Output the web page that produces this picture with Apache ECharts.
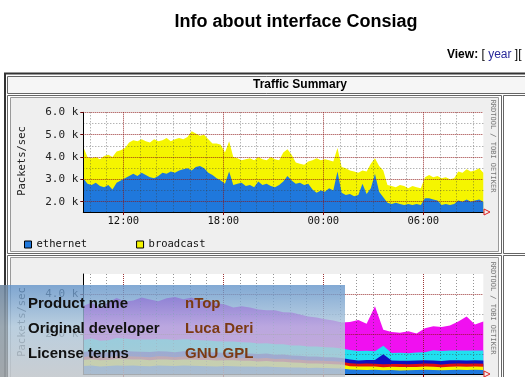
<!DOCTYPE html>
<html>
<head>
<meta charset="utf-8">
<script src="https://cdn.jsdelivr.net/npm/echarts@6/dist/echarts.min.js"></script>
<style>
  html, body { margin: 0; padding: 0; background: #fff; }
  #chart { width: 525px; height: 377px; }
</style>
</head>
<body>
<div id="chart"></div>
<script>
// top graph: packets/sec, one sample every 15 min starting 09:36
const startHour = 9.6;
const stepHour = 0.25;
const ethernet = [
  3050, 2800, 2750, 2850, 2700, 2650, 2750, 2550, 2850, 2950,
  3050, 3150, 3250, 3150, 3300, 3200, 3100, 3050, 3150, 3300,
  3250, 3350, 3300, 3400, 3450, 3500, 3400, 3550, 3600, 3500,
  3300, 3200, 3050, 2950, 2800, 3350, 2750, 2800, 2850, 2700,
  2750, 2650, 2900, 2750, 2800, 2700, 2650, 2750, 2900, 3150,
  2950, 2800, 2850, 2750, 2800, 2550, 2400, 2500, 2450, 2600,
  2500, 3350, 2400, 2300, 2350, 2250, 2300, 2800, 2350, 2600,
  3250, 2450, 2200, 1950, 1900, 1950, 1900, 1850, 1900, 1850,
  1900, 1850, 2150, 2150, 2100, 2050, 1850, 1900, 1850, 1900,
  2050, 2000, 2100, 2000, 2050, 2100, 2000
];
const broadcast = [
  1400, 1200, 1200, 1150, 1200, 1400, 1350, 1450, 1400, 1350,
  1350, 1500, 1500, 1550, 1500, 1500, 1550, 1750, 1550, 1450,
  1600, 1350, 1500, 1450, 1350, 1400, 1750, 1500, 1350, 1500,
  1500, 1400, 1550, 1600, 1400, 1350, 1250, 1150, 1000, 1200,
  1200, 1200, 1100, 1150, 1050, 1300, 1250, 1100, 1300, 1200,
  1150, 950, 850, 900, 1000, 1300, 1550, 1350, 1450, 1250,
  1300, 1050, 1150, 1200, 1050, 1100, 1000, 600, 1000, 1100,
  700, 1150, 1200, 800, 800, 700, 850, 850, 700, 850,
  750, 750, 950, 1050, 1000, 1100, 1200, 1200, 1150, 1150,
  1300, 1300, 1350, 1350, 1350, 1400, 1300
];

// second graph: stacked protocols, one sample every 30 min starting 09:36
const startHour2 = 9.6;
const stepHour2 = 0.5;
const layerBlue = [
  400, 420, 380, 400, 430, 410, 420, 400, 390, 420, 410, 400, 420, 410, 400, 390, 380,
  400, 390, 380, 370, 360, 370, 350, 340, 330, 320, 300, 310, 300, 290, 280,
  220, 210, 200, 210, 190, 200, 180, 190, 200, 210, 200, 190, 200, 210, 200, 210, 200
];
const layerYellow = [
  300, 320, 310, 300, 320, 330, 310, 320, 300, 310, 320, 300, 310, 320, 300, 310, 300,
  290, 300, 280, 290, 270, 280, 260, 270, 250, 240, 230, 220, 210, 200, 190,
  170, 160, 170, 160, 150, 160, 170, 160, 150, 170, 160, 150, 160, 170, 160, 170, 160
];
const layerRed = [
  150, 160, 150, 140, 150, 160, 150, 140, 150, 160, 150, 140, 150, 160, 150, 140, 150,
  140, 150, 140, 150, 140, 150, 140, 150, 140, 150, 140, 150, 140, 150, 140,
  150, 140, 150, 140, 150, 140, 150, 140, 150, 140, 150, 140, 150, 140, 150, 140, 150
];
const layerNavy = [
  250, 260, 240, 250, 260, 250, 240, 250, 260, 250, 240, 250, 260, 250, 240, 250, 240,
  230, 240, 230, 220, 230, 220, 210, 220, 210, 200, 210, 200, 190, 200, 190,
  180, 170, 180, 190, 500, 170, 160, 170, 180, 170, 160, 170, 180, 170, 160, 170, 170
];
const layerCyan = [
  600, 620, 580, 600, 640, 620, 600, 610, 630, 600, 620, 610, 600, 590, 600, 580, 570,
  560, 550, 560, 540, 530, 520, 530, 510, 500, 520, 500, 490, 500, 480, 470,
  480, 470, 460, 440, 420, 380, 400, 380, 390, 400, 520, 500, 490, 480, 500, 490, 500
];
const layerMagenta = [
  1700, 1800, 1650, 1900, 2000, 1850, 1950, 2100, 2000, 1900, 2050, 2150, 2000, 2100, 1950, 2000, 1900,
  1850, 1700, 1800, 1750, 1700, 1650, 1700, 1600, 1650, 1550, 1500, 1450, 1400, 1350, 1300,
  1400, 1550, 1350, 2250, 800, 1050, 1000, 1100, 950, 1200, 1200, 1200, 1250, 1450, 1700, 1300, 1450
];

const minorHours = [10, 11, 13, 14, 15, 16, 17, 19, 20, 21, 22, 23, 25, 26, 27, 28, 29, 31, 32, 33];
const majorHours = [12, 18, 24, 30];
const minorPackets = [2500, 3500, 4500, 5500];
const majorPackets = [2000, 3000, 4000, 5000, 6000];
const minorPackets2 = [1000, 3000];
const majorPackets2 = [2000, 4000];

const monoFont = 'DejaVu Sans Mono';
const pageFont = '"Liberation Sans", Arial, sans-serif';
const minorLine = { color: 'rgba(60,60,60,0.55)', width: 1, type: [1, 2] };
const majorLine = { color: 'rgba(140,20,20,0.85)', width: 1, type: [1, 1] };

function hourLabel(v) {
  const h = Math.round(v) % 24;
  return (h < 10 ? '0' + h : '' + h) + ':00';
}
function kLabel(v) {
  return (v / 1000).toFixed(1) + ' k';
}
// rrdtool STACK: each layer is drawn from the axis floor up to the running total,
// lower layers painted over the upper ones
function runningTotals(layers) {
  const out = [];
  let acc = layers[0].map(() => 0);
  layers.forEach(layer => {
    acc = acc.map((a, i) => a + layer[i]);
    out.push(acc.slice());
  });
  return out;
}
function pairs(values, start, step) {
  return values.map((v, i) => [start + i * step, v]);
}

function xAxes(gridIndex) {
  return [
    {
      type: 'value', gridIndex, position: 'bottom', min: 9.6, max: 33.6, z: 10,
      axisLine: { show: true, lineStyle: { color: '#000', width: 1 } },
      axisTick: { show: false, customValues: minorHours },
      axisLabel: { show: false },
      splitLine: { show: true, lineStyle: minorLine }
    },
    {
      type: 'value', gridIndex, position: 'bottom', min: 9.6, max: 33.6, z: 11,
      axisLine: { show: false },
      axisTick: { show: true, customValues: majorHours, length: 3, lineStyle: { color: '#800' } },
      axisLabel: {
        show: true, customValues: majorHours, formatter: hourLabel,
        fontFamily: monoFont, fontSize: 10.5, color: '#111', margin: 4
      },
      splitLine: { show: true, lineStyle: majorLine }
    }
  ];
}

function yAxes(gridIndex, min, max, minor, major) {
  return [
    {
      type: 'value', gridIndex, position: 'left', min, max, z: 10,
      axisLine: { show: true, lineStyle: { color: '#000', width: 1 } },
      axisTick: { show: false, customValues: minor },
      axisLabel: { show: false },
      splitLine: { show: true, lineStyle: minorLine }
    },
    {
      type: 'value', gridIndex, position: 'left', min, max, z: 11,
      axisLine: { show: false },
      axisTick: { show: true, customValues: major, length: 3, lineStyle: { color: '#600' } },
      axisLabel: {
        show: true, customValues: major, formatter: kLabel,
        fontFamily: monoFont, fontSize: 11, color: '#222', margin: 5
      },
      splitLine: { show: true, lineStyle: majorLine }
    }
  ];
}

function area(name, values, start, step, color, xi, yi) {
  return {
    name, type: 'line', xAxisIndex: xi, yAxisIndex: yi,
    data: pairs(values, start, step),
    symbol: 'none', lineStyle: { width: 0 },
    areaStyle: { color, opacity: 1 }, itemStyle: { color },
    animation: false
  };
}

const topTotals = runningTotals([ethernet, broadcast]);
const lowTotals = runningTotals([layerBlue, layerYellow, layerRed, layerNavy, layerCyan, layerMagenta]);
const lowColors = ['#1f78dc', '#f5f500', '#e01010', '#1010c0', '#20e0f0', '#f010f0'];
const lowNames = ['blue', 'yellow', 'red', 'navy', 'cyan', 'magenta'];

const lowSeries = [];
for (let k = lowTotals.length - 1; k >= 0; k--) {
  lowSeries.push(area(lowNames[k], lowTotals[k], startHour2, stepHour2, lowColors[k], 2, 2));
}

const chart = echarts.init(document.getElementById('chart'), null, { renderer: 'canvas' });

const option = {
  backgroundColor: '#fff',
  animation: false,
  grid: [
    { left: 83.3, top: 112.3, width: 400, height: 99.7, outerBoundsMode: 'none', containLabel: false },
    { left: 83.3, top: 274, width: 400, height: 100, outerBoundsMode: 'none', containLabel: false }
  ],
  xAxis: [...xAxes(0), ...xAxes(1)],
  yAxis: [
    ...yAxes(0, 1540, 6000, minorPackets, majorPackets),
    ...yAxes(1, 0, 5000, minorPackets2, majorPackets2)
  ],
  legend: {
    data: ['ethernet', 'broadcast'],
    left: 19, top: 234, itemWidth: 7, itemHeight: 7, itemGap: 49,
    icon: 'rect',
    itemStyle: { borderColor: '#000', borderWidth: 1 },
    textStyle: { fontFamily: monoFont, fontSize: 10.5, color: '#111', padding: [0, 0, 0, 0] }
  },
  series: [
    area('broadcast', topTotals[1], startHour, stepHour, '#f5f500', 0, 0),
    area('ethernet', topTotals[0], startHour, stepHour, '#1f78dc', 0, 0),
    ...lowSeries
  ],
  graphic: [
    // page heading
    { type: 'text', x: 296, y: 22, z: 1, style: {
      text: 'Info about interface Consiag', fill: '#000', align: 'center', verticalAlign: 'middle',
      font: 'bold 18px ' + pageFont } },
    { type: 'text', x: 447, y: 55, z: 1, style: {
      text: '{b|View:} [ {a|year} ][ {a|month} ]', verticalAlign: 'middle',
      fill: '#000', font: '12px ' + pageFont,
      rich: {
        b: { fontWeight: 'bold', fontFamily: 'Liberation Sans', fontSize: 12, fill: '#000' },
        a: { fontFamily: 'Liberation Sans', fontSize: 12, fill: '#2a2a9a' }
      } } },
    // table borders
    { type: 'rect', z: -10, shape: { x: 5, y: 73.5, width: 540, height: 330 },
      style: { fill: '#fff', stroke: '#333', lineWidth: 2 } },
    { type: 'rect', z: -9, shape: { x: 7.5, y: 76.5, width: 530, height: 17 },
      style: { fill: '#f6f6f6', stroke: '#666', lineWidth: 1 } },
    { type: 'text', x: 300, y: 85, z: 1, style: {
      text: 'Traffic Summary', fill: '#000', align: 'center', verticalAlign: 'middle',
      font: 'bold 12px ' + pageFont } },
    { type: 'rect', z: -9, shape: { x: 7.5, y: 95.5, width: 494, height: 158 },
      style: { fill: '#fff', stroke: '#666', lineWidth: 1 } },
    { type: 'rect', z: -9, shape: { x: 503.5, y: 95.5, width: 40, height: 158 },
      style: { fill: '#fff', stroke: '#666', lineWidth: 1 } },
    { type: 'rect', z: -9, shape: { x: 7.5, y: 255.5, width: 494, height: 140 },
      style: { fill: '#fff', stroke: '#666', lineWidth: 1 } },
    { type: 'rect', z: -9, shape: { x: 503.5, y: 255.5, width: 40, height: 140 },
      style: { fill: '#fff', stroke: '#666', lineWidth: 1 } },
    // rrd images
    { type: 'rect', z: -8, shape: { x: 10.5, y: 97.5, width: 488, height: 154 },
      style: { fill: '#efefef', stroke: '#999', lineWidth: 1 } },
    { type: 'rect', z: -8, shape: { x: 10.5, y: 257.5, width: 488, height: 140 },
      style: { fill: '#efefef', stroke: '#999', lineWidth: 1 } },
    { type: 'rect', z: -7, shape: { x: 83.3, y: 112.3, width: 400, height: 99.7 },
      style: { fill: '#fff' } },
    { type: 'rect', z: -7, shape: { x: 83.3, y: 274, width: 400, height: 100 },
      style: { fill: '#fff' } },
    // axis titles and credits
    { type: 'text', x: 22, y: 161, rotation: Math.PI / 2, z: 1, style: {
      text: 'Packets/sec', fill: '#222', align: 'center', verticalAlign: 'middle',
      font: '10.5px "DejaVu Sans Mono", monospace' } },
    { type: 'text', x: 22, y: 322, rotation: Math.PI / 2, z: 1, style: {
      text: 'Packets/sec', fill: '#222', align: 'center', verticalAlign: 'middle',
      font: '10.5px "DejaVu Sans Mono", monospace' } },
    { type: 'text', x: 493, y: 146, rotation: -Math.PI / 2, z: 1, style: {
      text: 'RRDTOOL / TOBI OETIKER', fill: '#777', align: 'center', verticalAlign: 'middle',
      font: '7px "DejaVu Sans Mono", monospace' } },
    { type: 'text', x: 493, y: 308, rotation: -Math.PI / 2, z: 1, style: {
      text: 'RRDTOOL / TOBI OETIKER', fill: '#777', align: 'center', verticalAlign: 'middle',
      font: '7px "DejaVu Sans Mono", monospace' } },
    { type: 'polygon', z: 20, shape: { points: [[484, 209], [484, 215], [490, 212]] },
      style: { fill: 'none', stroke: '#e02020', lineWidth: 1 } },
    { type: 'polygon', z: 20, shape: { points: [[484, 371], [484, 377], [490, 374]] },
      style: { fill: 'none', stroke: '#e02020', lineWidth: 1 } },
    // product info overlay
    { type: 'rect', z: 50, shape: { x: 0, y: 285, width: 345, height: 92 },
      style: { fill: new echarts.graphic.LinearGradient(0, 0, 0, 1, [
        { offset: 0, color: 'rgba(95,145,200,0.78)' },
        { offset: 0.45, color: 'rgba(175,200,220,0.82)' },
        { offset: 1, color: 'rgba(195,200,205,0.85)' }
      ]) } },
    { type: 'rect', z: 51, shape: { x: 0, y: 285, width: 8, height: 92 },
      style: { fill: 'rgba(120,125,130,0.5)' } },
    { type: 'text', left: 28, top: 296, z: 52, style: {
      text: 'Product name', fill: '#111', font: 'bold 15px ' + pageFont } },
    { type: 'text', left: 185, top: 296, z: 52, style: {
      text: 'nTop', fill: '#7b3a12', font: 'bold 15px ' + pageFont } },
    { type: 'text', left: 28, top: 321, z: 52, style: {
      text: 'Original developer', fill: '#111', font: 'bold 15px ' + pageFont } },
    { type: 'text', left: 185, top: 321, z: 52, style: {
      text: 'Luca Deri', fill: '#7b3a12', font: 'bold 15px ' + pageFont } },
    { type: 'text', left: 28, top: 346, z: 52, style: {
      text: 'License terms', fill: '#111', font: 'bold 15px ' + pageFont } },
    { type: 'text', left: 185, top: 346, z: 52, style: {
      text: 'GNU GPL', fill: '#7b3a12', font: 'bold 15px ' + pageFont } }
  ]
};

chart.setOption(option);
</script>
</body>
</html>
